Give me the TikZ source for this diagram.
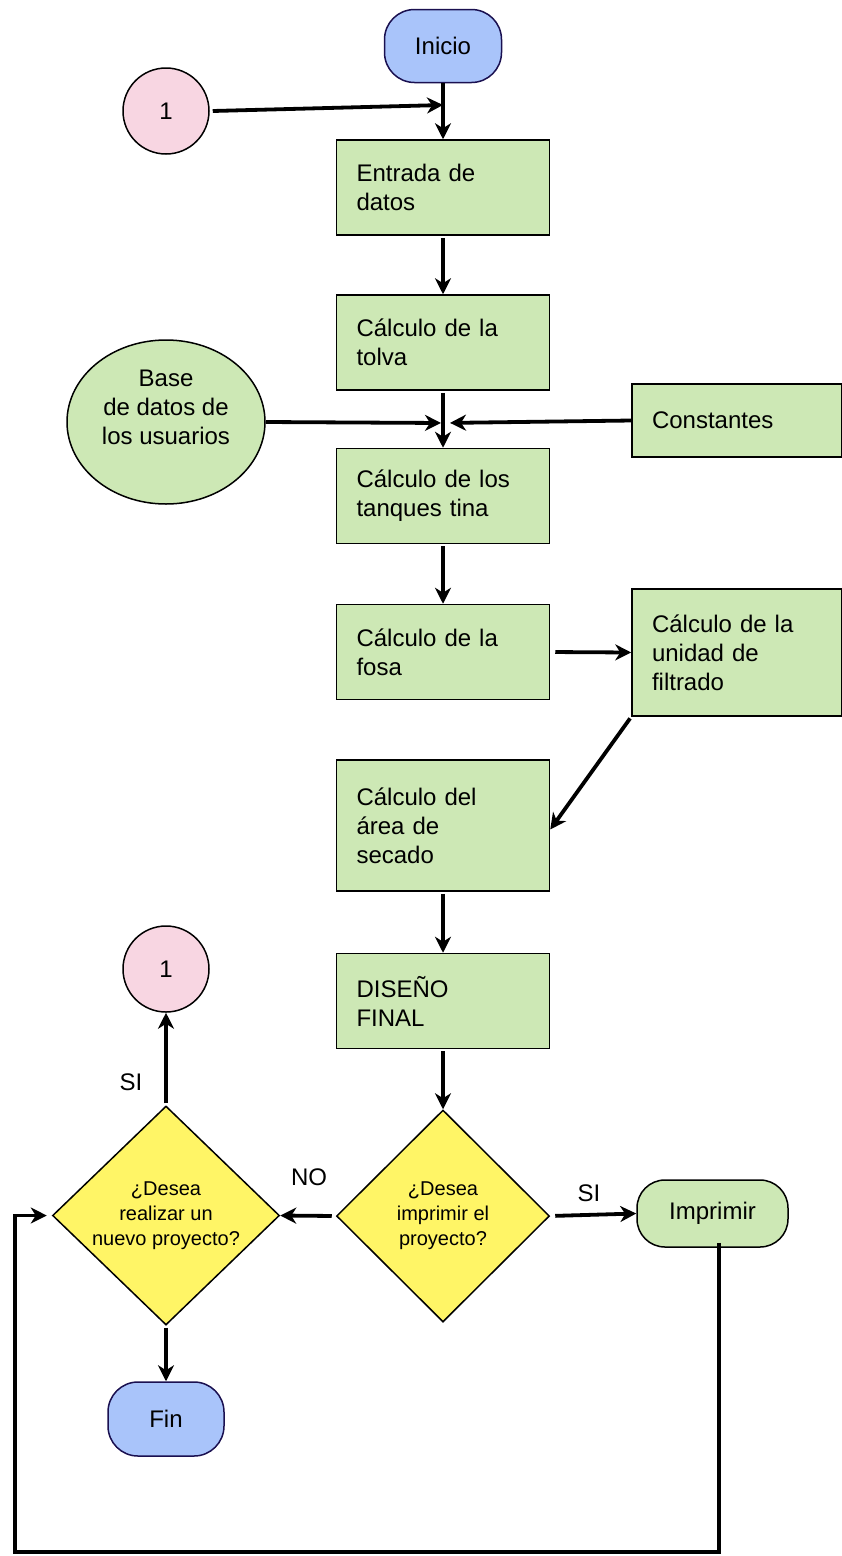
\documentclass[tikz,border=0pt]{standalone}
\usepackage{fontspec}
\setmainfont{Liberation Sans}
\usepackage{xcolor}
\usepackage{tikz}
\usetikzlibrary{shapes.geometric,arrows.meta}

\definecolor{verde}{RGB}{205,232,181}
\definecolor{azul}{RGB}{169,196,250}
\definecolor{azulborde}{RGB}{26,16,80}
\definecolor{rosa}{RGB}{248,214,226}
\definecolor{amarillo}{RGB}{255,245,102}

\begin{document}
\begin{tikzpicture}[x=1pt, y=-1pt,
    font=\fontsize{24}{29}\selectfont,
    proceso/.style={draw, line width=1.5pt, fill=verde, align=left, inner xsep=20pt,
        text width=173pt, minimum height=95pt},
    terminal/.style={draw=azulborde, line width=1.5pt, fill=azul, rounded corners=30pt,
        minimum width=117pt, minimum height=73pt},
    conector/.style={draw, circle, line width=1.5pt, fill=rosa, minimum size=86pt, inner sep=0pt},
    decision/.style={draw, diamond, line width=1.5pt, fill=amarillo, inner sep=0pt, align=center,
        font=\fontsize{20}{25}\selectfont},
    flecha/.style={line width=3.8pt, -{Stealth[length=16pt,width=16pt,inset=5pt]}}]
        \useasboundingbox (0,0) rectangle (842,1556);

        % Inicio y conector de regreso
        \node[terminal] (inicio) at (443,46) {Inicio};
        \node[conector] (conA) at (166,111) {1};
        \coordinate (jA) at (443,105);

        % Columna central
        \node[proceso] (entrada) at (443,187.5) {Entrada de\\datos};
        \node[proceso] (tolva) at (443,342.5) {C\'alculo de la\\tolva};
        \node[proceso] (tanques) at (443,496) {C\'alculo de los\\tanques tina};
        \node[proceso] (fosa) at (443,652) {C\'alculo de la\\fosa};
        \node[proceso, minimum height=131pt] (secado) at (443,825.5) {C\'alculo del\\\'area de\\secado};
        \node[proceso] (disenio) at (443,1001) {DISE\~NO\\FINAL};

        % Entradas laterales
        \node[draw, ellipse, line width=1.5pt, fill=verde, minimum width=198pt, minimum height=164pt,
            align=center, inner sep=0pt] (basedatos) at (166,422) {Base\\de datos de\\los usuarios\\\mbox{}};
        \node[proceso, text width=170pt, minimum height=73pt] (constantes) at (737,420.5) {Constantes};
        \node[proceso, text width=170pt, minimum height=127pt] (filtrado) at (737,652.5) {C\'alculo de la\\unidad de\\filtrado};
        \coordinate (jB) at (443,423);

        % Decisiones
        \node[decision, minimum width=213pt, minimum height=212pt] (imprimirq) at (443,1216) {\textquestiondown Desea\\imprimir el\\proyecto?};
        \node[decision, minimum width=227pt, minimum height=219pt] (nuevoq) at (166,1215.5) {\textquestiondown Desea\\realizar un\\nuevo proyecto?};
        \node[terminal, draw=black, fill=verde, rounded corners=28pt, minimum width=151pt, minimum height=67pt] (imprimir) at (712.5,1213.5) {Imprimir};
        \node[conector] (conB) at (166,969) {1};
        \node[terminal, minimum width=116pt, minimum height=74pt] (fin) at (166,1419) {Fin\hspace{22pt}};

        % Etiquetas
        \node (lblNo) at (309,1177) {NO};
        \node (lblSiA) at (589,1193) {SI};
        \node (lblSiB) at (131,1082) {SI};

        % Flechas
        \draw[line width=3.8pt] (inicio) -- (jA);
        \draw[flecha] (conA.east) ++(3,0) -- (jA);
        \draw[flecha] (jA) -- (entrada.north);
        \draw[flecha] (entrada.south) ++(0,2) -- (tolva.north);
        \draw[line width=3.8pt] (tolva.south) ++(0,2) -- (jB);
        \draw[flecha] (jB) -- (tanques.north);
        \draw[flecha, shorten >=2pt] (basedatos.east) -- (jB);
        \draw[flecha, shorten >=7pt] (constantes.west) -- (jB);
        \draw[flecha] (tanques.south) ++(0,2) -- (fosa.north);
        \draw[flecha, shorten <=5pt] (fosa.east) -- (filtrado.west);
        \draw[flecha, shorten <=2pt] (filtrado.south west) -- ([yshift=-4pt]secado.east);
        \draw[flecha] (secado.south) ++(0,2) -- (disenio.north);
        \draw[flecha] (disenio.south) ++(0,2) -- (imprimirq.north);
        \draw[flecha, shorten <=4pt] (imprimirq.west) -- (nuevoq.east);
        \draw[flecha, shorten <=5pt] (imprimirq.east) -- (imprimir.west);
        \draw[flecha, shorten <=2pt] (nuevoq.north) -- (conB.south);
        \draw[flecha, shorten <=2pt] (nuevoq.south) -- (fin.north);

        % Lazo de regreso
        \coordinate (lazoA) at (719,1552);
        \coordinate (lazoB) at (15,1552);
        \draw[flecha, shorten >=5pt] ([xshift=6.5pt,yshift=5pt]imprimir.south) -- (lazoA) -- (lazoB) |- (nuevoq.west);
    \end{tikzpicture}
\end{document}
